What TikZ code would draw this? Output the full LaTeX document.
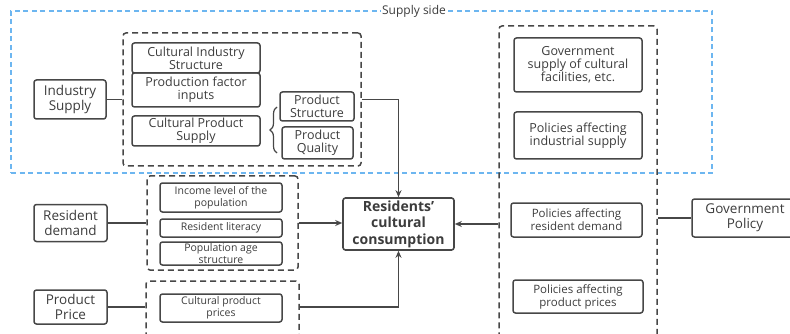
\documentclass[tikz,border=0pt]{standalone}
\usepackage{fontspec}
\setmainfont{Open Sans}
\usetikzlibrary{arrows.meta,decorations.pathreplacing}
\definecolor{ink}{HTML}{3C3C3C}
\definecolor{edge}{HTML}{474747}
\definecolor{skyline}{HTML}{6DB6F0}
\tikzset{
  box/.style={draw=edge, line width=1.5pt, rounded corners=2.5pt, align=center,
    inner sep=0pt, text=ink, font=\fontsize{12.5}{13}\selectfont},
  bigbox/.style={box, font=\fontsize{13.5}{15}\selectfont},
  smallbox/.style={box, font=\fontsize{10.5}{11.5}\selectfont},
  polbox/.style={box, font=\fontsize{11.5}{13}\selectfont},
  group/.style={draw=edge, line width=1.5pt, dash pattern=on 6pt off 4pt,
    rounded corners=3pt, inner sep=0pt},
  link/.style={draw=edge, line width=1.5pt},
  arrow/.style={link, -{Stealth[length=7pt,width=6pt]}}
}
\begin{document}
\begin{tikzpicture}[x=1pt,y=-1pt]
\useasboundingbox (0,0) rectangle (790,334);
\clip (0,0) rectangle (790,334);

% supply-side frame
\node[draw=skyline, line width=1.2pt, dash pattern=on 5pt off 3.5pt, inner sep=0pt,
  minimum width=701pt, minimum height=162pt] (supply) at (361.5,92) {};
\node[fill=white, inner sep=1.5pt, text=ink, font=\fontsize{12}{13}\selectfont]
  (supplylbl) at (414,11) {Supply side};

% dashed groups
\node[group, minimum width=238pt, minimum height=133pt] (g1) at (242,99.5) {};
\node[group, minimum width=151pt, minimum height=94pt] (g2) at (222.5,223) {};
\node[group, minimum width=153pt, minimum height=90pt] (g3) at (222.5,326) {};
\node[group, minimum width=158pt, minimum height=330pt] (g4) at (578,191) {};

% industry supply
\node[bigbox, minimum width=72pt, minimum height=39pt] (indsup) at (70,99.5) {Industry\\Supply};
\node[box, minimum width=128pt, minimum height=30pt] (cis) at (196,58) {Cultural Industry\\Structure};
\node[box, minimum width=128pt, minimum height=34pt] (pfi) at (196,90) {Production factor\\inputs};
\node[box, minimum width=128pt, minimum height=30pt] (cps) at (196,131) {Cultural Product\\Supply};
\node[box, minimum width=74pt, minimum height=29pt] (ps) at (317,106.5) {Product\\Structure};
\node[box, minimum width=71pt, minimum height=32pt] (pq) at (317.5,143) {Product\\Quality};
\draw[link, line width=1.2pt, decorate, decoration={brace, amplitude=7pt}]
  (277,153) coordinate (bracelow) -- (277,107) coordinate (bracehigh);

% resident demand
\node[bigbox, minimum width=73pt, minimum height=37pt] (resdem) at (70.5,223) {Resident\\demand};
\node[smallbox, minimum width=122pt, minimum height=29pt] (inc) at (221,197.5) {Income level of the\\population};
\node[smallbox, minimum width=122pt, minimum height=18pt] (lit) at (221,228) {Resident literacy};
\node[smallbox, minimum width=122pt, minimum height=23pt] (age) at (221,253.5) {Population age\\structure};

% product price
\node[bigbox, minimum width=73pt, minimum height=34pt] (price) at (70.5,307) {Product\\Price};
\node[smallbox, minimum width=122pt, minimum height=28pt] (cpp) at (221,308) {Cultural product\\prices};

% government side
\node[box, minimum width=128pt, minimum height=54pt] (gsc) at (578,65) {Government\\supply of cultural\\facilities, etc.};
\node[box, minimum width=128pt, minimum height=47pt] (pis) at (578,135.5) {Policies affecting\\industrial supply};
\node[polbox, minimum width=131pt, minimum height=34pt] (prd) at (576.5,220) {Policies affecting\\resident demand};
\node[polbox, minimum width=130pt, minimum height=33pt] (ppp) at (578,296.5) {Policies affecting\\product prices};
\node[box, minimum width=108pt, minimum height=38pt] (gov) at (746,218) {};
\node[text=ink, align=center, font=\fontsize{13.5}{15}\selectfont] (govtxt) at (745,218) {Government\\Policy};

% central node
\node[box, line width=1.6pt, minimum width=111pt, minimum height=52pt,
  font=\bfseries\fontsize{14}{16.5}\selectfont] (rcc) at (398.5,224) {Residents'\\cultural\\consumption};

% connectors
\draw[link] (indsup.east) -- (indsup.east -| g1.west);
\draw[arrow] (indsup.east -| g1.east) -| (rcc.north);
\draw[link] (resdem.east) -- (resdem.east -| g2.west);
\draw[arrow] (g2.east) -- (g2.east -| rcc.west);
\draw[link] (price.east) -- (price.east -| g3.west);
\draw[arrow] (price.east -| g3.east) -| (rcc.south);
\draw[arrow] (rcc.east -| g4.west) -- (rcc.east);
\draw[link] (gov.west) -- (gov.west -| g4.east);
\end{tikzpicture}
\end{document}
